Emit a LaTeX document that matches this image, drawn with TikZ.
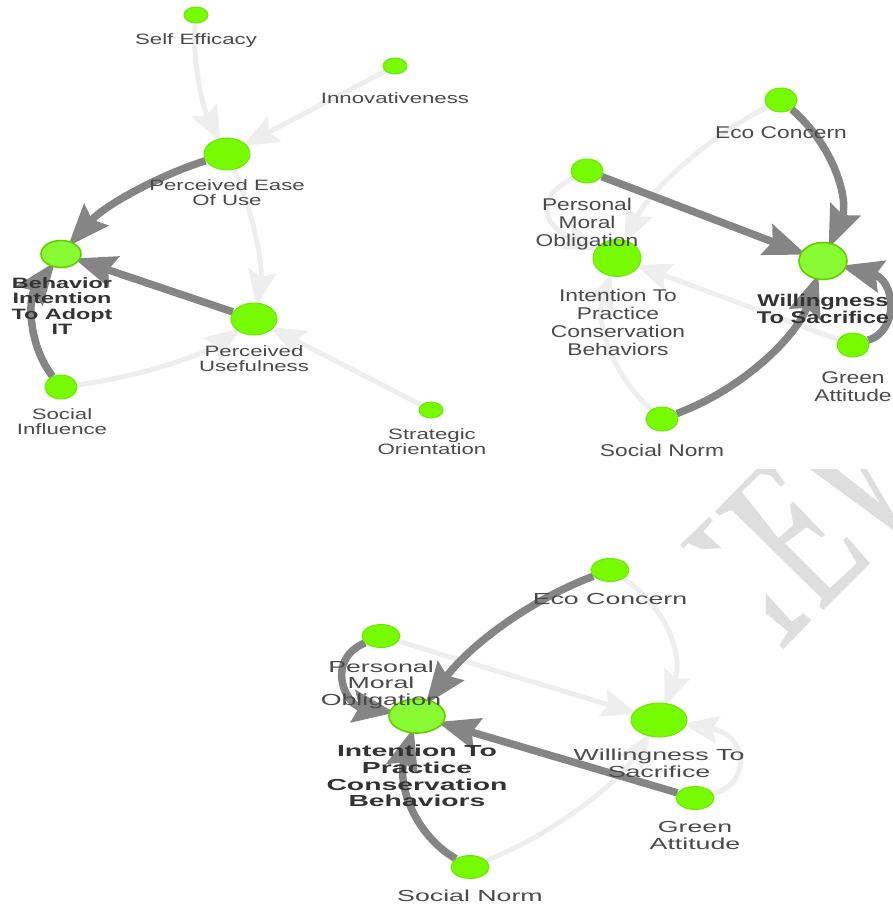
\documentclass[tikz,border=0pt]{standalone}
\usepackage{fontspec}
\usepackage{graphicx}
\setmainfont{Liberation Sans}
\usetikzlibrary{shapes.geometric,arrows.meta,backgrounds}
\definecolor{txt}{HTML}{4A4A4A}
\definecolor{txtb}{HTML}{333333}
\definecolor{darkedge}{HTML}{858585}
\definecolor{lightedge}{HTML}{EEEEEE}
\definecolor{nodefill}{HTML}{76FB00}
\definecolor{nodeline}{HTML}{6FE60A}
\definecolor{hifill}{HTML}{88FB33}
\definecolor{hiline}{HTML}{66CC00}
\definecolor{wm}{HTML}{DEDEDE}
\newcommand\LabRm[4]{\scalebox{#2}[1]{\fontsize{#1}{#3}\selectfont\color{txt}\begin{tabular}{@{}c@{}}#4\end{tabular}}}
\newcommand\LabBf[4]{\scalebox{#2}[1]{\fontsize{#1}{#3}\selectfont\bfseries\color{txtb}\begin{tabular}{@{}c@{}}#4\end{tabular}}}
\newcommand\LA[1]{\LabRm{15}{1.48}{15}{#1}}
\newcommand\LB[1]{\LabRm{17}{1.34}{18}{#1}}
\newcommand\LC[1]{\LabRm{16}{1.67}{16.6}{#1}}
\tikzset{
  gnode/.style={ellipse,draw=nodeline,fill=nodefill,line width=1pt,inner sep=0pt},
  hinode/.style={ellipse,draw=hiline,fill=hifill,line width=1.6pt,inner sep=0pt},
  small/.style={gnode,minimum width=24pt,minimum height=16pt},
  mid/.style={gnode,minimum width=32pt,minimum height=24pt},
  big/.style={gnode,minimum width=46pt,minimum height=32pt},
  lab/.style={inner sep=0pt,outer sep=0pt,yshift=-2.5pt},
  dk/.style={draw=darkedge,line width=7.5pt,-{Stealth[length=42pt,width=32pt,inset=6pt]},shorten >=-6pt},
  lt/.style={draw=lightedge,line width=5pt,-{Stealth[length=36pt,width=28pt,inset=6pt]},shorten >=-4pt},
  wmark/.style={fill=wm,draw=none}
}
\begin{document}
\begin{tikzpicture}[x=1pt,y=-1pt]
\useasboundingbox (0,0) rectangle (893,908);
\clip (0,0) rectangle (893,908);
% left group
\node[small] (se) at (196,15) {};
\node[small] (in) at (395,66) {};
\node[big] (pe) at (227,154) {};
\node[hinode,minimum width=40pt,minimum height=27pt] (bi) at (61,254) {};
\node[big] (pu) at (254,319) {};
\node[mid] (si) at (61,387) {};
\node[small] (so) at (431,410) {};
% right group
\node[mid] (re) at (781,100) {};
\node[mid] (rp) at (587,171) {};
\node[gnode,minimum width=48pt,minimum height=37pt] (ri) at (617,258) {};
\node[hinode,minimum width=48pt,minimum height=37pt] (rw) at (823,261) {};
\node[mid] (rg) at (853,345) {};
\node[mid] (rs) at (662,419) {};
% bottom group
\node[gnode,minimum width=38pt,minimum height=23pt] (be) at (610,570) {};
\node[gnode,minimum width=38pt,minimum height=23pt] (bp) at (381,636) {};
\node[hinode,minimum width=56pt,minimum height=34pt] (bt) at (417,716) {};
\node[gnode,minimum width=56pt,minimum height=34pt] (bw) at (659,720) {};
\node[gnode,minimum width=38pt,minimum height=23pt] (bg) at (695,798) {};
\node[gnode,minimum width=38pt,minimum height=23pt] (bs) at (470,867) {};
\begin{scope}[on background layer]
% watermark
\begin{scope}[xshift=660pt,yshift=-450pt,x=0.3333pt,y=-0.3333pt]
\fill[wmark] (60,285)--(148,200)--(158,212)--(130,245)--(185,295)--(125,297)--(85,280)--(70,295)--cycle;
\fill[wmark] (165,185)--(290,57)--(345,57)--(375,100)--(362,110)--(330,75)--(300,72)--(245,125)--(355,265)--(400,225)--(390,165)--(400,155)--(495,255)--(485,262)--(440,232)--(375,280)--(510,415)--(590,340)--(550,270)--(560,260)--(630,340)--(490,480)--(478,470)--(485,445)--(215,180)--(178,195)--cycle;
\fill[wmark] (450,57)--(530,57)--(660,160)--(600,57)--(620,57)--(675,150)--(699,190)--(699,240)--cycle;
\fill[wmark] (318,430)--(395,515)--(430,490)--(455,510)--(370,597)--(358,585)--(385,545)--(318,490)--cycle;
\end{scope}
% left edges
\draw[lt] (se) .. controls (192,62) and (203,108) .. (pe);
\draw[lt] (in) -- (pe);
\draw[lt] (pe) .. controls (254,213) and (263,268) .. (pu);
\draw[lt] (si) .. controls (139,377) and (203,355) .. (pu);
\draw[lt] (so) -- (pu);
\draw[dk] (pe) .. controls (160,175) and (105,205) .. (bi);
\draw[dk] (pu) -- (bi);
\draw[dk] (si) .. controls (28,345) and (28,298) .. (bi);
% right edges
\draw[lt] (re) .. controls (701,141) and (648,194) .. (ri);
\draw[lt] (rp) .. controls (531,199) and (545,227) .. (ri);
\draw[lt] (rs) .. controls (611,374) and (595,320) .. (ri);
\draw[lt] (rg) -- (ri);
\draw[dk] (re) .. controls (835,147) and (849,201) .. (rw);
\draw[dk] (rp) -- (rw);
\draw[dk] (rs) .. controls (743,389) and (797,336) .. (rw);
\draw[dk] (rg) .. controls (900,330) and (895,280) .. (rw);
% bottom edges
\draw[lt] (be) .. controls (667,607) and (684,657) .. (bw);
\draw[lt] (bp) -- (bw);
\draw[lt] (bs) .. controls (553,834) and (616,785) .. (bw);
\draw[lt] (bg) .. controls (750,785) and (750,735) .. (bw);
\draw[dk] (be) .. controls (530,600) and (470,645) .. (bt);
\draw[dk] (bp) .. controls (325,660) and (345,705) .. (bt);
\draw[dk] (bg) -- (bt);
\draw[dk] (bs) .. controls (415,835) and (397,785) .. (bt);
\end{scope}
% left labels
\node[lab] (lse) at (196,39) {\LA{Self Efficacy}};
\node[lab] (lin) at (395,98) {\LA{Innovativeness}};
\node[lab] (lpe) at (227,192.5) {\LA{Perceived Ease\\Of Use}};
\node[lab] (lbi) at (62,306) {\LabBf{15}{1.56}{15.3}{Behavior\\Intention\\To Adopt\\IT}};
\node[lab] (lpu) at (254,358) {\LA{Perceived\\Usefulness}};
\node[lab] (lsi) at (62,421.5) {\LA{Social\\Influence}};
\node[lab] (lso) at (432,441.5) {\LA{Strategic\\Orientation}};
% right labels
\node[lab] (lre) at (781,132) {\LB{Eco Concern}};
\node[lab] (lrp) at (587,222) {\LB{Personal\\Moral\\Obligation}};
\node[lab] (lri) at (618,322) {\LB{Intention To\\Practice\\Conservation\\Behaviors}};
\node[lab] (lrw) at (823,309) {\LabBf{17}{1.39}{17.5}{Willingness\\To Sacrifice}};
\node[lab] (lrg) at (853,386) {\LB{Green\\Attitude}};
\node[lab] (lrs) at (662,450) {\LB{Social Norm}};
% bottom labels
\node[lab] (lbe) at (610,599) {\LC{Eco Concern}};
\node[lab] (lbp) at (381,683) {\LC{Personal\\Moral\\Obligation}};
\node[lab] (lbt) at (417,776) {\LabBf{16}{1.77}{16.6}{Intention To\\Practice\\Conservation\\Behaviors}};
\node[lab] (lbw) at (659,763) {\LC{Willingness To\\Sacrifice}};
\node[lab] (lbg) at (695,835) {\LC{Green\\Attitude}};
\node[lab] (lbs) at (470,896) {\LC{Social Norm}};
\end{tikzpicture}
\end{document}
